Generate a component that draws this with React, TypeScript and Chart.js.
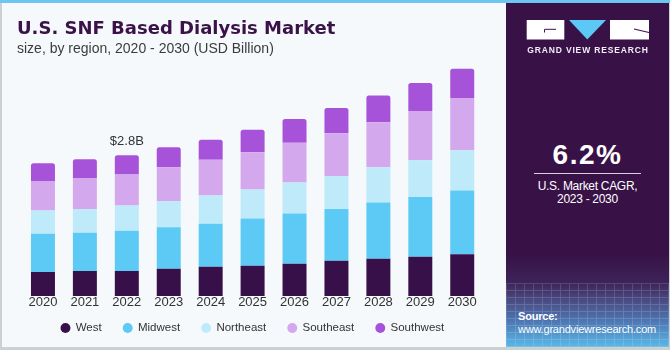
import React, { useEffect, useRef } from "react";
import { Chart, registerables } from "chart.js";

Chart.register(...registerables);

// ---- data ----
const years = ["2020", "2021", "2022", "2023", "2024", "2025", "2026", "2027", "2028", "2029", "2030"];
const seriesNames = ["West", "Midwest", "Northeast", "Southeast", "Southwest"];
const west = [0.48, 0.5, 0.5, 0.54, 0.58, 0.6, 0.64, 0.7, 0.74, 0.78, 0.83];
const midwest = [0.76, 0.76, 0.8, 0.83, 0.86, 0.94, 1.0, 1.03, 1.12, 1.19, 1.27];
const northeast = [0.46, 0.47, 0.5, 0.52, 0.56, 0.58, 0.62, 0.66, 0.7, 0.73, 0.8];
const southeast = [0.59, 0.62, 0.62, 0.67, 0.71, 0.74, 0.79, 0.85, 0.9, 0.98, 1.04];
const southwest = [0.35, 0.37, 0.38, 0.4, 0.4, 0.45, 0.47, 0.5, 0.53, 0.56, 0.58];
const seriesColors = ["#37104A", "#5CCAF5", "#BEEAFA", "#D4A8EC", "#A652D9"];
const annotationIndex = [2];
const annotationText = ["$2.8B"];

const FONT = '"Liberation Sans", Arial, sans-serif';
const LEGEND_SHIFT = 8.9;

const totalLabelPlugin = {
  id: "totalLabel",
  afterDatasetsDraw(chart: any) {
    const ctx = chart.ctx;
    const meta = chart.getDatasetMeta(chart.data.datasets.length - 1);
    annotationIndex.forEach((idx, i) => {
      const el = meta.data[idx];
      if (!el) return;
      ctx.save();
      ctx.font = `13px ${FONT}`;
      ctx.fillStyle = "#333333";
      ctx.textAlign = "center";
      ctx.textBaseline = "middle";
      ctx.fillText(annotationText[i], el.x, el.y - 13.5);
      ctx.restore();
    });
  },
};

const legendShiftPlugin = {
  id: "legendShift",
  afterLayout(chart: any) {
    const lg = chart.legend;
    if (!lg) return;
    lg.top -= LEGEND_SHIFT;
    lg.bottom -= LEGEND_SHIFT;
  },
};

export default function App() {
  const canvasRef = useRef<HTMLCanvasElement | null>(null);

  useEffect(() => {
    if (!canvasRef.current) return;
    const allSeries = [west, midwest, northeast, southeast, southwest];
    const chart = new Chart(canvasRef.current, {
      type: "bar",
      data: {
        labels: years,
        datasets: allSeries.map((vals, i) => ({
          label: seriesNames[i],
          data: vals,
          backgroundColor: seriesColors[i],
          borderWidth: 0,
          barPercentage: 1,
          categoryPercentage: 0.572,
          borderRadius: i === allSeries.length - 1 ? { topLeft: 2.5, topRight: 2.5, bottomLeft: 0, bottomRight: 0 } : 0,
          borderSkipped: i === allSeries.length - 1 ? false : "start",
        })),
      },
      options: {
        responsive: false,
        animation: false,
        layout: { padding: { left: 22, right: 21.8, top: 44.75, bottom: 0.35 } },
        scales: {
          x: {
            stacked: true,
            grid: { display: false, drawTicks: false },
            border: { display: false },
            ticks: {
              padding: 0,
              color: "#333333",
              font: { family: FONT, size: 13, lineHeight: 1.05 },
            },
          },
          y: { stacked: true, display: false, min: 0, max: 5 },
        },
        plugins: {
          legend: {
            position: "bottom",
            labels: {
              usePointStyle: true,
              pointStyle: "circle",
              boxWidth: 9,
              boxHeight: 7,
              padding: 21.5,
              color: "#333333",
              font: { family: FONT, size: 11.5 },
            },
          },
          tooltip: { enabled: false },
        },
      },
      plugins: [totalLabelPlugin, legendShiftPlugin],
    } as any);
    return () => chart.destroy();
  }, []);

  return (
    <div
      style={{
        position: "fixed",
        left: 0,
        top: 0,
        width: 670,
        height: 350,
        background: "#F5F9FC",
        overflow: "hidden",
        fontFamily: FONT,
      }}
    >
      <canvas ref={canvasRef} width={505} height={353} style={{ position: "absolute", left: 0, top: 0, width: 505, height: 353 }} />

      {/* title */}
      <div
        style={{
          position: "absolute",
          left: 17,
          top: 19.1,
          fontFamily: '"DejaVu Sans", sans-serif',
          fontWeight: 700,
          fontSize: 18,
          lineHeight: "18px",
          color: "#3A1248",
          whiteSpace: "nowrap",
        }}
      >
        U.S. SNF Based Dialysis Market
      </div>
      <div
        style={{
          position: "absolute",
          left: 17,
          top: 41.4,
          fontSize: 14,
          lineHeight: "14px",
          color: "#3C3C3C",
          whiteSpace: "nowrap",
        }}
      >
        size, by region, 2020 - 2030 (USD Billion)
      </div>

      {/* right panel */}
      <div
        style={{
          position: "absolute",
          left: 506,
          top: 0,
          width: 163,
          height: 350,
          background:
            "linear-gradient(to bottom, #381247 0px, #381247 255px, #3d2459 283px, #4a4a82 300px, #4d74b0 320px, #5ab8e8 347px)",
        }}
      />
      <div
        style={{
          position: "absolute",
          left: 506,
          top: 283,
          width: 163,
          height: 64,
          opacity: 0.16,
          background:
            "repeating-linear-gradient(to right, rgba(255,255,255,0.9) 0px, rgba(255,255,255,0.9) 1px, transparent 1px, transparent 9px), repeating-linear-gradient(to bottom, rgba(255,255,255,0.9) 0px, rgba(255,255,255,0.9) 1px, transparent 1px, transparent 7px)",
        }}
      />
      <svg width={670} height={60} style={{ position: "absolute", left: 0, top: 0 }}>
        <rect x={526.7} y={20} width={37.6} height={19.5} fill="#FFFFFF" />
        <polyline points="556,29.3 544.5,29.3 544.5,32.5" fill="none" stroke="#3A1248" strokeWidth={1} />
        <polygon points="569,20 606,20 587.3,39.5" fill="#5BC8F5" />
        <rect x={610} y={20} width={39} height={19.5} fill="#FFFFFF" />
        <line x1={634} y1={29} x2={649} y2={32.5} stroke="#3A1248" strokeWidth={1.2} />
      </svg>
      <div
        style={{
          position: "absolute",
          left: 520,
          top: 45.5,
          width: 136,
          textAlign: "center",
          fontWeight: 700,
          fontSize: 8.5,
          lineHeight: "9px",
          letterSpacing: 0.85,
          color: "#F2EEF5",
          whiteSpace: "nowrap",
        }}
      >
        GRAND VIEW RESEARCH
      </div>
      <div
        style={{
          position: "absolute",
          left: 506,
          top: 140.5,
          width: 163,
          textAlign: "center",
          fontWeight: 700,
          fontSize: 28,
          lineHeight: "28px",
          letterSpacing: 1.5,
          color: "#FFFFFF",
        }}
      >
        6.2%
      </div>
      <div style={{ position: "absolute", left: 534, top: 173, width: 107, height: 1, background: "rgba(255,255,255,0.8)" }} />
      <div
        style={{
          position: "absolute",
          left: 506,
          top: 180.3,
          width: 163,
          textAlign: "center",
          fontSize: 12,
          lineHeight: "13px",
          letterSpacing: -0.3,
          color: "#FFFFFF",
        }}
      >
        U.S. Market CAGR,
        <br />
        2023 - 2030
      </div>
      <div
        style={{
          position: "absolute",
          left: 518,
          top: 309.5,
          fontSize: 11,
          lineHeight: "13px",
          letterSpacing: -0.2,
          color: "#FFFFFF",
          whiteSpace: "nowrap",
        }}
      >
        <span style={{ fontWeight: 700 }}>Source:</span>
        <br />
        www.grandviewresearch.com
      </div>

      {/* frame */}
      <div style={{ position: "absolute", left: 0, top: 0, width: 670, height: 3, background: "#6CC6EF" }} />
      <div style={{ position: "absolute", left: 0, top: 3, width: 2, height: 347, background: "#CBD0D3" }} />
      <div style={{ position: "absolute", left: 0, top: 347, width: 670, height: 3, background: "#CBD0D3" }} />
      <div style={{ position: "absolute", left: 669, top: 3, width: 1, height: 344, background: "#CBD0D3" }} />
    </div>
  );
}
